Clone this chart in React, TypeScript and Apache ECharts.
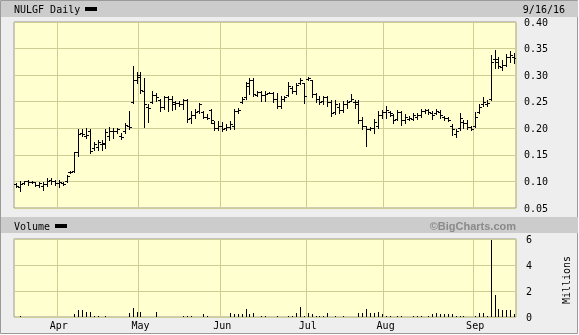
import React, { useEffect, useRef } from "react";
import * as echarts from "echarts";

const monthNames = ["Mar", "Apr", "May", "Jun", "Jul", "Aug", "Sep"];
const monthNums = [3, 4, 5, 6, 7, 8, 9];
const tradingDays = [
  [16, 17, 18, 21, 22, 23, 24, 28, 29, 30, 31],
  [1, 4, 5, 6, 7, 8, 11, 12, 13, 14, 15, 18, 19, 20, 21, 22, 25, 26, 27, 28, 29],
  [2, 3, 4, 5, 6, 9, 10, 11, 12, 13, 16, 17, 18, 19, 20, 23, 24, 25, 26, 27, 31],
  [1, 2, 3, 6, 7, 8, 9, 10, 13, 14, 15, 16, 17, 20, 21, 22, 23, 24, 27, 28, 29, 30],
  [1, 5, 6, 7, 8, 11, 12, 13, 14, 15, 18, 19, 20, 21, 22, 25, 26, 27, 28, 29],
  [1, 2, 3, 4, 5, 8, 9, 10, 11, 12, 15, 16, 17, 18, 19, 22, 23, 24, 25, 26, 29, 30, 31],
  [1, 2, 6, 7, 8, 9, 12, 13, 14, 15, 16],
];

const opens = [
  0.095, 0.090, 0.097, 0.100, 0.099, 0.098, 0.094, 0.092, 0.096, 0.102,
  0.100, 0.097, 0.097, 0.100, 0.117, 0.120, 0.156, 0.192, 0.185, 0.195,
  0.162, 0.165, 0.170, 0.170, 0.185, 0.195, 0.195, 0.186, 0.195, 0.205,
  0.249, 0.290, 0.300, 0.270, 0.240, 0.250, 0.262, 0.254, 0.240, 0.258,
  0.255, 0.250, 0.248, 0.245, 0.254, 0.220, 0.225, 0.232, 0.230, 0.222,
  0.235, 0.210, 0.200, 0.205, 0.200, 0.202, 0.205, 0.232, 0.250, 0.258,
  0.285, 0.290, 0.262, 0.268, 0.262, 0.267, 0.267, 0.255, 0.242, 0.255,
  0.262, 0.275, 0.270, 0.285, 0.285, 0.292, 0.290, 0.265, 0.256, 0.252,
  0.258, 0.250, 0.230, 0.240, 0.235, 0.245, 0.252, 0.250, 0.250, 0.215,
  0.205, 0.198, 0.200, 0.205, 0.225, 0.230, 0.230, 0.225, 0.218, 0.230,
  0.215, 0.218, 0.218, 0.222, 0.225, 0.232, 0.235, 0.228, 0.228, 0.230,
  0.222, 0.220, 0.205, 0.190, 0.200, 0.212, 0.210, 0.202, 0.205, 0.230,
  0.245, 0.245, 0.255, 0.330, 0.325, 0.315, 0.320, 0.335, 0.335,
];
const highs = [
  0.097, 0.100, 0.101, 0.102, 0.101, 0.099, 0.099, 0.099, 0.107, 0.107,
  0.102, 0.103, 0.099, 0.112, 0.120, 0.156, 0.198, 0.199, 0.201, 0.199,
  0.175, 0.178, 0.178, 0.199, 0.202, 0.201, 0.201, 0.191, 0.210, 0.232,
  0.318, 0.305, 0.305, 0.294, 0.245, 0.270, 0.267, 0.256, 0.260, 0.260,
  0.260, 0.251, 0.251, 0.256, 0.255, 0.232, 0.236, 0.248, 0.232, 0.226,
  0.237, 0.213, 0.213, 0.211, 0.209, 0.213, 0.236, 0.239, 0.258, 0.288,
  0.294, 0.294, 0.270, 0.270, 0.270, 0.269, 0.269, 0.267, 0.260, 0.261,
  0.288, 0.279, 0.286, 0.294, 0.286, 0.296, 0.290, 0.267, 0.261, 0.261,
  0.260, 0.253, 0.253, 0.248, 0.251, 0.253, 0.264, 0.253, 0.253, 0.222,
  0.205, 0.202, 0.218, 0.232, 0.234, 0.242, 0.232, 0.226, 0.234, 0.232,
  0.226, 0.223, 0.228, 0.228, 0.237, 0.237, 0.236, 0.232, 0.236, 0.234,
  0.224, 0.222, 0.209, 0.199, 0.228, 0.216, 0.216, 0.205, 0.231, 0.245,
  0.258, 0.253, 0.337, 0.347, 0.334, 0.328, 0.340, 0.345, 0.342,
];
const lows = [
  0.089, 0.082, 0.096, 0.094, 0.097, 0.092, 0.090, 0.084, 0.092, 0.096,
  0.094, 0.090, 0.094, 0.099, 0.116, 0.118, 0.148, 0.185, 0.181, 0.154,
  0.159, 0.160, 0.159, 0.162, 0.178, 0.181, 0.191, 0.180, 0.191, 0.199,
  0.248, 0.286, 0.267, 0.202, 0.211, 0.248, 0.251, 0.232, 0.236, 0.232,
  0.234, 0.236, 0.242, 0.236, 0.211, 0.210, 0.220, 0.228, 0.220, 0.218,
  0.210, 0.196, 0.196, 0.194, 0.197, 0.199, 0.199, 0.228, 0.247, 0.256,
  0.264, 0.260, 0.260, 0.251, 0.251, 0.266, 0.250, 0.239, 0.239, 0.251,
  0.261, 0.267, 0.264, 0.283, 0.248, 0.290, 0.258, 0.250, 0.245, 0.245,
  0.242, 0.224, 0.226, 0.229, 0.230, 0.239, 0.251, 0.239, 0.210, 0.199,
  0.167, 0.196, 0.191, 0.201, 0.220, 0.220, 0.223, 0.210, 0.216, 0.207,
  0.210, 0.215, 0.215, 0.218, 0.222, 0.229, 0.226, 0.218, 0.226, 0.220,
  0.215, 0.213, 0.188, 0.183, 0.196, 0.200, 0.199, 0.196, 0.202, 0.229,
  0.242, 0.242, 0.253, 0.313, 0.313, 0.309, 0.317, 0.325, 0.323,
];
const closes = [
  0.091, 0.095, 0.100, 0.098, 0.099, 0.094, 0.097, 0.096, 0.100, 0.100,
  0.097, 0.099, 0.095, 0.110, 0.118, 0.155, 0.190, 0.190, 0.188, 0.158,
  0.170, 0.174, 0.172, 0.193, 0.195, 0.195, 0.199, 0.183, 0.207, 0.203,
  0.290, 0.297, 0.272, 0.245, 0.238, 0.262, 0.258, 0.240, 0.258, 0.255,
  0.245, 0.248, 0.245, 0.254, 0.218, 0.225, 0.230, 0.245, 0.222, 0.220,
  0.215, 0.200, 0.205, 0.198, 0.202, 0.208, 0.232, 0.235, 0.255, 0.280,
  0.290, 0.265, 0.268, 0.262, 0.265, 0.267, 0.255, 0.242, 0.255, 0.258,
  0.280, 0.270, 0.282, 0.290, 0.260, 0.295, 0.265, 0.256, 0.250, 0.258,
  0.250, 0.228, 0.245, 0.235, 0.245, 0.250, 0.255, 0.245, 0.215, 0.205,
  0.198, 0.200, 0.212, 0.225, 0.230, 0.235, 0.228, 0.215, 0.230, 0.215,
  0.222, 0.220, 0.225, 0.225, 0.233, 0.235, 0.230, 0.225, 0.233, 0.225,
  0.220, 0.216, 0.199, 0.195, 0.220, 0.210, 0.202, 0.198, 0.222, 0.240,
  0.250, 0.248, 0.325, 0.330, 0.318, 0.320, 0.335, 0.338, 0.333,
];
const volumes = [
  0, 0.1, 0, 0, 0, 0, 0, 0, 0, 0,
  0, 0, 0, 0, 0, 0.2, 0.5, 0.5, 0.4, 0.4,
  0.1, 0.05, 0, 0.05, 0, 0, 0, 0, 0, 0.3,
  0.7, 0.35, 0.4, 0, 0, 0, 0.4, 0, 0, 0,
  0, 0, 0, 0.05, 0.05, 0.05, 0, 0, 0.2, 0.05,
  0, 0, 0, 0, 0, 0.3, 0.2, 0.2, 0.2, 0.6,
  0.2, 0.3, 0, 0.05, 0.05, 0, 0, 0.05, 0, 0,
  0.1, 0.1, 0.3, 0.8, 0.1, 0.3, 0.2, 0.1, 0.1, 0.1,
  0.3, 0, 0.1, 0, 0.1, 0, 0, 0, 0.3, 0.3,
  0.6, 0.3, 0.3, 0.4, 0.2, 0.1, 0.1, 0, 0.05, 0.05,
  0, 0, 0.05, 0.05, 0.05, 0, 0.1, 0.2, 0.3, 0.2,
  0.2, 0.2, 0.2, 0.1, 0.1, 0.05, 0, 0, 0.1, 0.3,
  0.3, 0.1, 5.9, 1.7, 0.6, 0.5, 0.5, 0.5, 0.2,
];
const priceTicks = { min: 0.05, max: 0.4, step: 0.05 };
const volumeTicks = { min: 0, max: 6, step: 2 };
const titleText = "NULGF Daily";
const dateText = "9/16/16";

const MONO = "'DejaVu Sans Mono', monospace";
const GRIDCOLOR = "#cdcd94";
const PLOTBG = "#ffffd0";

export default function App() {
  const ref = useRef<HTMLDivElement>(null);
  useEffect(() => {
    if (!ref.current) return;
    const chart = echarts.init(ref.current, null, { renderer: "svg" });

    const categories: string[] = [];
    const monthStart: Record<number, string> = {};
    tradingDays.forEach((days, mi) => {
      days.forEach((d, di) => {
        if (di === 0 && mi > 0) monthStart[categories.length] = monthNames[mi];
        categories.push(`2016-${monthNums[mi]}-${d}`);
      });
    });
    const isMonthStart = (idx: number) => monthStart[idx] !== undefined;

    const ohlc = categories.map((_, i) => [i, opens[i], highs[i], lows[i], closes[i]]);
    const vol = categories.map((_, i) => [i, volumes[i]]);

    const renderOhlc = (params: any, api: any) => {
      const i = api.value(0);
      const pO = api.coord([i, api.value(1)]);
      const pH = api.coord([i, api.value(2)]);
      const pL = api.coord([i, api.value(3)]);
      const pC = api.coord([i, api.value(4)]);
      const x = Math.round(pH[0]) + 0.5;
      const yH = Math.round(pH[1]);
      const yL = Math.round(pL[1]) + 1;
      const yO = Math.round(pO[1]) + 0.5;
      const yC = Math.round(pC[1]) + 0.5;
      const st = { stroke: "#000", lineWidth: 1 };
      return {
        type: "group",
        children: [
          { type: "line", shape: { x1: x, y1: yH, x2: x, y2: yL }, style: st },
          { type: "line", shape: { x1: x - 2.5, y1: yO, x2: x, y2: yO }, style: st },
          { type: "line", shape: { x1: x, y1: yC, x2: x + 2.5, y2: yC }, style: st },
        ],
      };
    };

    const renderVol = (params: any, api: any) => {
      const v = api.value(1);
      if (!v) return null;
      const i = api.value(0);
      const top = api.coord([i, v]);
      const base = api.coord([i, 0]);
      const x = Math.round(top[0]);
      const h = Math.max(1, Math.round(base[1] - top[1]));
      return {
        type: "rect",
        shape: { x, y: Math.round(base[1]) - h, width: 1, height: h },
        style: { fill: "#000" },
      };
    };

    const left = 14;
    const right = 63;

    chart.setOption({
      animation: false,
      graphic: [
        { type: "rect", z: -10, shape: { x: 0.5, y: 0.5, width: 577, height: 333 }, style: { fill: "#eeeeee", stroke: "#9a9a9a", lineWidth: 1 } },
        { type: "rect", z: -9, shape: { x: 1, y: 1, width: 577, height: 16 }, style: { fill: "#cccccc" } },
        { type: "rect", z: -9, shape: { x: 1, y: 217, width: 577, height: 16 }, style: { fill: "#cccccc" } },
        { type: "text", z: 5, x: 14, y: 9, style: { text: titleText, font: `10px ${MONO}`, fill: "#000", verticalAlign: "middle" } },
        { type: "rect", z: 5, shape: { x: 85, y: 7, width: 12, height: 4 }, style: { fill: "#000" } },
        { type: "text", z: 5, x: 565, y: 9, style: { text: dateText, font: `10px ${MONO}`, fill: "#000", align: "right", verticalAlign: "middle" } },
        { type: "text", z: 5, x: 14, y: 226, style: { text: "Volume", font: `10px ${MONO}`, fill: "#000", verticalAlign: "middle" } },
        { type: "rect", z: 5, shape: { x: 55, y: 224, width: 12, height: 4 }, style: { fill: "#000" } },
        { type: "text", z: 5, x: 516, y: 226, style: { text: "©BigCharts.com", font: "bold 11px 'Liberation Sans', Arial, sans-serif", fill: "#8a8a8a", align: "right", verticalAlign: "middle" } },
        { type: "text", z: 5, x: 566, y: 280, rotation: Math.PI / 2, style: { text: "Millions", font: `10px ${MONO}`, fill: "#000", align: "center", verticalAlign: "middle" } },
      ],
      grid: [
        { left, right, top: 22, height: 186, show: true, backgroundColor: PLOTBG, borderColor: "#9a9a9a", borderWidth: 1 },
        { left, right, top: 239, height: 78, show: true, backgroundColor: PLOTBG, borderColor: "#9a9a9a", borderWidth: 1 },
      ],
      xAxis: [
        {
          type: "category", gridIndex: 0, data: categories, boundaryGap: true,
          axisLine: { show: false }, axisTick: { show: false }, axisLabel: { show: false },
          splitLine: { show: true, interval: (idx: number) => isMonthStart(idx), lineStyle: { color: GRIDCOLOR, width: 1 } },
        },
        {
          type: "category", gridIndex: 1, data: categories, boundaryGap: true,
          axisLine: { show: false }, axisTick: { show: false },
          axisLabel: {
            show: true, interval: (idx: number) => isMonthStart(idx), margin: 3,
            formatter: (_v: string, idx: number) => monthStart[idx] ?? "",
            fontFamily: "DejaVu Sans Mono", fontSize: 10, color: "#000",
          },
          splitLine: { show: true, interval: (idx: number) => isMonthStart(idx), lineStyle: { color: GRIDCOLOR, width: 1 } },
        },
      ],
      yAxis: [
        {
          type: "value", gridIndex: 0, position: "right", min: priceTicks.min, max: priceTicks.max, interval: priceTicks.step,
          axisLine: { show: false }, axisTick: { show: false },
          axisLabel: { margin: 8, padding: [3, 0, 0, 0], formatter: (v: number) => v.toFixed(2), fontFamily: "DejaVu Sans Mono", fontSize: 10, color: "#000" },
          splitLine: { show: true, lineStyle: { color: GRIDCOLOR, width: 1 } },
        },
        {
          type: "value", gridIndex: 1, position: "right", min: volumeTicks.min, max: volumeTicks.max, interval: volumeTicks.step,
          axisLine: { show: false }, axisTick: { show: false },
          axisLabel: { margin: 10, padding: [3, 0, 0, 0], fontFamily: "DejaVu Sans Mono", fontSize: 10, color: "#000" },
          splitLine: { show: true, lineStyle: { color: GRIDCOLOR, width: 1 } },
        },
      ],
      series: [
        { type: "custom", xAxisIndex: 0, yAxisIndex: 0, data: ohlc, renderItem: renderOhlc, encode: { x: 0, y: [1, 2, 3, 4] }, clip: true },
        { type: "custom", xAxisIndex: 1, yAxisIndex: 1, data: vol, renderItem: renderVol, encode: { x: 0, y: 1 }, clip: true },
      ],
    });
    return () => chart.dispose();
  }, []);
  return <div ref={ref} style={{ position: "fixed", left: 0, top: 0, width: 579, height: 335 }} />;
}
